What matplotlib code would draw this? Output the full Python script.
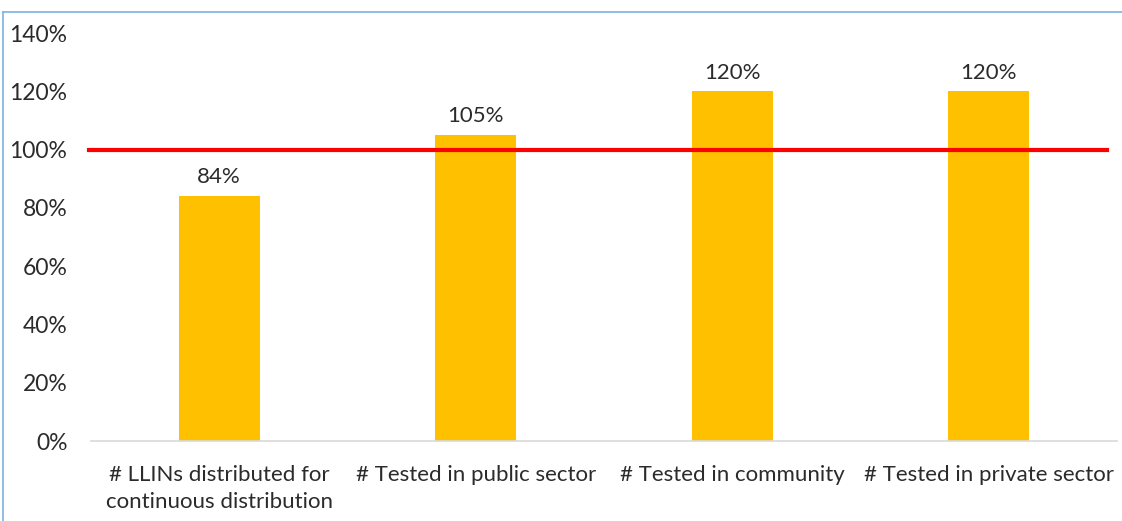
import matplotlib.pyplot as plt
from matplotlib.lines import Line2D
from matplotlib.ticker import FuncFormatter

categories = ["# LLINs distributed for\ncontinuous distribution",
              "# Tested in public sector",
              "# Tested in community",
              "# Tested in private sector"]
values = [84, 105, 120, 120]
target = 100
y_ticks = [0, 20, 40, 60, 80, 100, 120, 140]

plt.rcParams['font.family'] = ['Lato', 'DejaVu Sans']
text_color = "#2B2B2B"

fig = plt.figure(figsize=(11.22, 5.21), dpi=100)
W, H = 1122, 521
ax = fig.add_axes([91 / W, 80 / H, (1117 - 91) / W, (441 - 33) / H])

x = range(len(categories))
bars = ax.bar(x, values, width=0.316, color="#FFC000", zorder=2)
for b, v in zip(bars, values):
    ax.text(b.get_x() + b.get_width() / 2, v + 3, f"{v}%", ha="center", va="bottom",
            fontsize=16, color=text_color)

# target line
ax.axhline(target, xmin=-0.002, xmax=0.99, color="#FF0000", lw=3, zorder=3, clip_on=False)

ax.set_xlim(-0.5, len(categories) - 0.5)
ax.set_ylim(0, 140)
ax.set_yticks(y_ticks)
ax.yaxis.set_major_formatter(FuncFormatter(lambda v, p: f"{v:.0f}%"))
ax.set_xticks(list(x))
ax.set_xticklabels(categories, fontsize=16, color=text_color, linespacing=1.45)
ax.tick_params(axis="y", labelsize=16.5, labelcolor=text_color, length=0, pad=17)
ax.tick_params(axis="x", length=0, pad=17)

for s in ["top", "right", "left"]:
    ax.spines[s].set_visible(False)
ax.spines["bottom"].set_color("#D9D9D9")
ax.spines["bottom"].set_linewidth(1.2)

# outer chart border (top and left visible)
border = "#7EB0E0"
fig.add_artist(Line2D([3 / W, 1], [1 - 12 / H, 1 - 12 / H], color=border, lw=1.2))
fig.add_artist(Line2D([3 / W, 3 / W], [0, 1 - 12 / H], color=border, lw=1.2))

fig.savefig("out.png", dpi=100)
